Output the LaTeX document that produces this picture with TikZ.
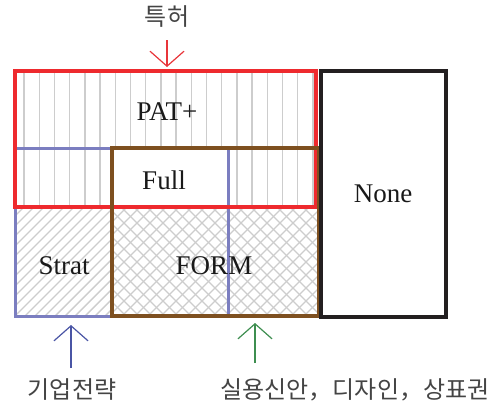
\documentclass[tikz,border=0pt]{standalone}
\usepackage{fontspec}
\setmainfont{Liberation Serif}
\newfontfamily\kr{Noto Sans CJK KR}
\usetikzlibrary{arrows.meta}
\definecolor{cred}{HTML}{EE2A2E}
\definecolor{cblue}{HTML}{7B7EC0}
\definecolor{cbrown}{HTML}{7E5020}
\definecolor{cblack}{HTML}{231F20}
\definecolor{chatch}{HTML}{CDCDCD}
\definecolor{ared}{HTML}{E8353A}
\definecolor{ablue}{HTML}{4A55A5}
\definecolor{agreen}{HTML}{3E8E50}
\definecolor{ktext}{HTML}{444444}
\tikzset{
  lab/.style={font=\fontsize{27}{29}\selectfont, text=black!90},
  klab/.style={font=\kr\fontsize{24}{26}\selectfont, text=ktext},
  hatchline/.style={draw=chatch, line width=1.4pt},
  pointer/.style={line width=1.2pt, -{Straight Barb[length=15pt,width=34pt,line width=1.2pt]}},
}
\begin{document}
\begin{tikzpicture}[x=1pt,y=-1pt]
\useasboundingbox (0,0) rectangle (497,405);
% vertical hatching in PAT+ region
\begin{scope}
  \clip (15,71) rectangle (317,208);
  \foreach \i in {0,...,19} {
    \draw[hatchline] ({24+15.2*\i},71) -- ({24+15.2*\i},208);
  }
\end{scope}
% Full region white
\fill[white] (112,148) rectangle (228,208);
% diagonal hatching in Strat region
\begin{scope}
  \clip (15,208) rectangle (112,316);
  \foreach \c in {-120,-110,...,100} {
    \draw[hatchline] ({15+\c},316) -- ++(130,-130);
  }
\end{scope}
% crosshatch in FORM region
\begin{scope}
  \clip (112,208) rectangle (318,316);
  \foreach \c in {-120,-107,...,220} {
    \draw[hatchline, line width=1.2pt] ({112+\c},316) -- ++(130,-130);
    \draw[hatchline, line width=1.2pt] ({112+\c},208) -- ++(130,130);
  }
\end{scope}
% borders
\draw[cblue, line width=3pt] (15,148) rectangle (228,316);
\draw[cred, line width=3.5pt] (15,71) rectangle (316,207);
\draw[cbrown, line width=4pt] (112,148) rectangle (319,316);
\draw[cblack, line width=4pt] (321,71) rectangle (446,317);
% labels
\node[lab] (pat) at (167,112) {PAT+};
\node[lab] (full) at (164,180) {Full};
\node[lab] (strat) at (64,266) {Strat};
\node[lab] (form) at (214,266) {FORM};
\node[lab] (none) at (383,194) {None};
% outside labels and arrows
\node[klab] (patent) at (167,17) {특허};
\node[klab] (corp) at (72,390) {기업전략};
\node[klab, anchor=west] (other) at (217,390) {실용신안，디자인，상표권};
\coordinate (patS) at (167,40);
\coordinate (patT) at (167,67);
\coordinate (corpS) at (71,368);
\coordinate (corpT) at (71,325);
\coordinate (othS) at (255,363);
\coordinate (othT) at (255,323);
\draw[pointer, ared] (patS) -- (patT);
\draw[pointer, ablue] (corpS) -- (corpT);
\draw[pointer, agreen] (othS) -- (othT);
\end{tikzpicture}
\end{document}
